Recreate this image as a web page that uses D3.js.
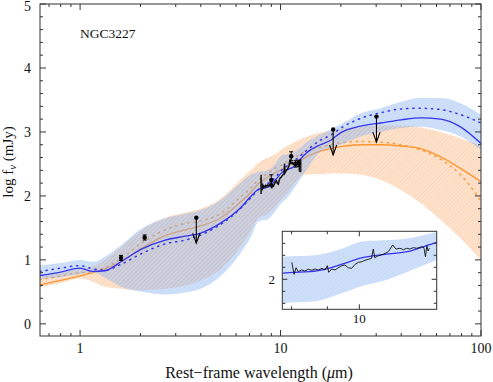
<!DOCTYPE html>
<html><head><meta charset="utf-8">
<script src="https://cdn.jsdelivr.net/npm/d3@7"></script>
<style>body{margin:0;background:#fff;} svg{display:block;font-family:"Liberation Serif","DejaVu Serif",serif;}</style>
</head><body>
<svg id="c" width="493" height="382"></svg>
<script>
// ---------- DATA ----------
const wave   = [0.63,0.8,1.0,1.16,1.33,1.6,2.0,2.66,3.35,4.0,5.0,6.3,7.1,7.75,8.7,9.5,10.1,10.8,11.7,12.9,14.1,15.8,17.8,20,25,31.6,40,50,63,79,100];
const blueFit= [0.755,0.81,0.87,0.82,0.83,0.97,1.16,1.31,1.37,1.42,1.57,1.81,1.99,2.10,2.14,2.26,2.36,2.41,2.46,2.617,2.72,2.80,2.87,2.99,3.09,3.14,3.19,3.22,3.20,3.08,2.82];
const blueDot= [0.82,0.87,0.91,0.86,0.84,0.93,1.09,1.25,1.31,1.39,1.55,1.80,1.97,2.10,2.20,2.30,2.40,2.47,2.55,2.66,2.76,2.87,2.95,3.06,3.21,3.30,3.36,3.37,3.35,3.27,3.14];
const blueUp = [0.91,0.95,1.0,0.97,1.05,1.23,1.48,1.65,1.72,1.78,1.93,2.2,2.33,2.375,2.405,2.52,2.63,2.65,2.68,2.79,2.88,2.96,3.04,3.12,3.29,3.37,3.47,3.53,3.53,3.45,3.27];
const blueLo = [0.70,0.73,0.78,0.80,0.72,0.58,0.505,0.46,0.49,0.55,0.74,1.1,1.35,1.6,1.64,1.78,1.89,1.97,2.12,2.32,2.5,2.69,2.75,2.8,2.93,3.0,3.06,3.08,3.03,2.93,2.72];
const orFit  = [0.61,0.68,0.75,0.80,0.86,0.97,1.17,1.38,1.47,1.53,1.65,1.9,2.05,2.19,2.30,2.37,2.41,2.46,2.52,2.58,2.64,2.70,2.74,2.77,2.80,2.80,2.78,2.74,2.61,2.43,2.22];
const orDot  = [0.69,0.75,0.80,0.82,0.88,1.02,1.25,1.47,1.57,1.61,1.72,1.98,2.12,2.25,2.36,2.44,2.48,2.54,2.60,2.67,2.72,2.76,2.80,2.83,2.85,2.84,2.80,2.72,2.57,2.33,1.92];
const orUp   = [0.74,0.80,0.86,0.90,1.0,1.2,1.45,1.66,1.74,1.80,1.95,2.25,2.40,2.52,2.60,2.66,2.72,2.78,2.84,2.90,2.95,2.99,3.02,3.05,3.08,3.1,3.1,3.07,3.0,2.9,2.78];
const orLo   = [0.57,0.64,0.71,0.66,0.58,0.55,0.53,0.55,0.6,0.68,0.85,1.2,1.45,1.65,1.72,1.85,1.95,2.05,2.18,2.33,2.34,2.34,2.35,2.35,2.33,2.25,2.09,1.89,1.625,1.34,1.0];

// photometry: wavelength, log f, error
const photWave = [1.6, 2.1, 8.99, 11.3, 11.9, 12.3];
const photVal  = [1.03, 1.35, 2.25, 2.62, 2.50, 2.51];
const photErr  = [0.04, 0.04, 0.08, 0.07, 0.05, 0.05];
// upper limits
const ulWave = [3.8, 18.3, 30.1];
const ulVal  = [1.66, 3.04, 3.24];
// N-band spectrum
const specWave = [8.007,8.066,8.12,8.18,8.27,8.36,8.45,8.55,8.64,8.74,8.84,8.93,9.00,9.04,9.13,9.23,9.33,9.44,9.54,9.64,9.75,9.86,9.97,10.08,10.19,10.30,10.41,10.47,10.52,10.65,10.82,11.00,11.16,11.28,11.43,11.56,11.69,11.81,11.94,12.08,12.28,12.37,12.43,12.49,12.54,12.59];
const specVal  = [2.283,2.083,2.193,2.127,2.155,2.138,2.167,2.15,2.172,2.155,2.183,2.155,2.227,2.117,2.172,2.155,2.193,2.227,2.238,2.193,2.183,2.25,2.283,2.293,2.317,2.333,2.35,2.505,2.36,2.393,2.417,2.46,2.572,2.505,2.517,2.493,2.517,2.505,2.527,2.517,2.543,2.527,2.377,2.56,2.472,2.517];
const specBarWave = [8.0, 12.6];
const specBarVal  = [2.18, 2.47];
const specBarErr  = [0.15, 0.10];

const xTickLabels = ["1","10","100"];
const yTickLabels = ["0","1","2","3","4","5"];
const title = "NGC3227";

// ---------- SETUP ----------
const svg = d3.select('#c');
const L=40,R=481,T=4,B=336;
const x = d3.scaleLog().domain([0.631,100]).range([L,R]);
const y = d3.scaleLinear().domain([-0.19,5]).range([B,T]);
const IL=282.3, IR=436.7, IT=231.3, IB=309.3;
const xi = d3.scaleLog().domain([7.76,12.9]).range([IL,IR]);
const yi = d3.scaleLinear().domain([1.5,2.8]).range([IB,IT]);

const defs = svg.append('defs');
function hatch(id,bg,fg){
  const p=defs.append('pattern').attr('id',id).attr('patternUnits','userSpaceOnUse')
    .attr('width',3).attr('height',3).attr('patternTransform','rotate(-45)');
  p.append('rect').attr('width',3).attr('height',3).attr('fill',bg);
  p.append('rect').attr('width',3).attr('height',0.7).attr('fill',fg);
}
hatch('hb','#93bbf1','#7aa6ea');
hatch('ho','#fee3ce','#fcd0ae');
defs.append('clipPath').attr('id','cm').append('rect').attr('x',L).attr('y',T).attr('width',R-L).attr('height',B-T);
defs.append('clipPath').attr('id','ci').append('rect').attr('x',IL).attr('y',IT).attr('width',IR-IL).attr('height',IB-IT);

const band = (lo,hi) => wave.map((w,i)=>({w,lo:lo[i],hi:hi[i]}));
const ser = a => wave.map((w,i)=>[w,a[i]]);

function drawModels(g, xs, ys, inset){
  const area=d3.area().x(d=>xs(d.w)).y0(d=>ys(d.lo)).y1(d=>ys(d.hi)).curve(d3.curveMonotoneX);
  const line=d3.line().x(d=>xs(d[0])).y(d=>ys(d[1])).curve(d3.curveMonotoneX);
  if(!inset){
    g.append('path').attr('d',area(band(orLo,orUp))).attr('fill','url(#ho)');
    g.append('path').attr('d',line(ser(orFit))).attr('fill','none').attr('stroke','#ff9530').attr('stroke-width',1.3);
    g.append('path').attr('d',line(ser(orDot))).attr('fill','none').attr('stroke','#ff9530').attr('stroke-width',1.5)
      .attr('stroke-dasharray','1.2,5').attr('stroke-linecap','round');
  }
  g.append('path').attr('d',area(band(blueLo,blueUp))).attr('fill','url(#hb)').attr('opacity',0.45);
  if(!inset){
    g.append('path').attr('d',line(ser(blueDot))).attr('fill','none').attr('stroke','#3535ee').attr('stroke-width',1.5)
      .attr('stroke-dasharray','1.2,5').attr('stroke-linecap','round');
  }
  g.append('path').attr('d',line(ser(blueFit))).attr('fill','none').attr('stroke','#3535ee').attr('stroke-width',1.3);
  const spec=d3.line().x(d=>xs(d[0])).y(d=>ys(d[1]));
  g.append('path').attr('d',spec(specWave.map((w,i)=>[w,specVal[i]]))).attr('fill','none')
    .attr('stroke','#111').attr('stroke-width',inset?0.9:1.5);
}

// ---------- MAIN ----------
const gm = svg.append('g').attr('clip-path','url(#cm)');
drawModels(gm, x, y, false);

specBarWave.forEach((w,i)=>{
  gm.append('line').attr('x1',x(w)).attr('x2',x(w)).attr('y1',y(specBarVal[i]-specBarErr[i])).attr('y2',y(specBarVal[i]+specBarErr[i]))
    .attr('stroke','#222').attr('stroke-width',1.6);
});
photWave.forEach((w,i)=>{
  const cx=x(w), v=photVal[i], e=photErr[i];
  gm.append('line').attr('x1',cx).attr('x2',cx).attr('y1',y(v-e)).attr('y2',y(v+e)).attr('stroke','#000').attr('stroke-width',1);
  [v-e,v+e].forEach(t=>gm.append('line').attr('x1',cx-2).attr('x2',cx+2).attr('y1',y(t)).attr('y2',y(t)).attr('stroke','#000').attr('stroke-width',1));
  gm.append('circle').attr('cx',cx).attr('cy',y(v)).attr('r',2.2).attr('fill','#000');
});
ulWave.forEach((w,i)=>{
  const cx=x(w), y0=y(ulVal[i]), y1=y(ulVal[i]-0.4);
  gm.append('line').attr('x1',cx).attr('x2',cx).attr('y1',y0).attr('y2',y1).attr('stroke','#000').attr('stroke-width',1.1);
  gm.append('path').attr('d',`M${cx-3.6},${y1-10}L${cx},${y1}L${cx+3.6},${y1-10}`).attr('fill','none').attr('stroke','#000').attr('stroke-width',1.1);
  gm.append('circle').attr('cx',cx).attr('cy',y0).attr('r',2.2).attr('fill','#000');
});

const ax = svg.append('g').attr('stroke','#333').attr('stroke-width',1);
ax.append('rect').attr('x',L).attr('y',T).attr('width',R-L).attr('height',B-T).attr('fill','none');
x.ticks().forEach(t=>{
  const major = Math.abs(Math.log10(t)-Math.round(Math.log10(t)))<1e-6;
  const len = major?6:3, px=x(t);
  ax.append('line').attr('x1',px).attr('x2',px).attr('y1',B).attr('y2',B-len);
  ax.append('line').attr('x1',px).attr('x2',px).attr('y1',T).attr('y2',T+len);
});
d3.range(0,26).map(k=>k*0.2).forEach(t=>{
  const major = Math.abs(t-Math.round(t))<1e-6;
  const len = major?6:3, py=y(t);
  ax.append('line').attr('x1',L).attr('x2',L+len).attr('y1',py).attr('y2',py);
  ax.append('line').attr('x1',R).attr('x2',R-len).attr('y1',py).attr('y2',py);
});
const tx = svg.append('g').attr('fill','#111').attr('font-size',14);
[1,10,100].forEach((t,i)=>tx.append('text').attr('x',x(t)).attr('y',353).attr('text-anchor','middle').text(xTickLabels[i]));
[0,1,2,3,4,5].forEach((t,i)=>tx.append('text').attr('x',31).attr('y',Math.max(y(t)+5,11)).attr('text-anchor','end').text(yTickLabels[i]));

tx.append('text').attr('x',80).attr('y',38).attr('font-size',13.5).text(title);

const xl = tx.append('text').attr('x',259).attr('y',378).attr('text-anchor','middle').attr('font-size',16);
xl.append('tspan').text('Rest\u2212frame wavelength (');
xl.append('tspan').attr('font-style','italic').text('\u03bc');
xl.append('tspan').text('m)');

const yl = tx.append('text').attr('transform','translate(13,162) rotate(-90)').attr('text-anchor','middle').attr('font-size',15);
yl.append('tspan').text('log f');
yl.append('tspan').attr('font-size',11).attr('dy',3).attr('font-style','italic').text('\u03bd');
yl.append('tspan').attr('dy',-3).text(' (mJy)');

// ---------- INSET ----------
svg.append('rect').attr('x',IL).attr('y',IT).attr('width',IR-IL).attr('height',IB-IT).attr('fill','#fff');
const gi = svg.append('g').attr('clip-path','url(#ci)');
drawModels(gi, xi, yi, true);
const ai = svg.append('g').attr('stroke','#333').attr('stroke-width',1);
ai.append('rect').attr('x',IL).attr('y',IT).attr('width',IR-IL).attr('height',IB-IT).attr('fill','none');
[8,9,10].forEach(t=>{
  const len = t===10?5:3, px=xi(t);
  ai.append('line').attr('x1',px).attr('x2',px).attr('y1',IB).attr('y2',IB-len);
  ai.append('line').attr('x1',px).attr('x2',px).attr('y1',IT).attr('y2',IT+len);
});
[1.6,1.8,2.0,2.2,2.4,2.6].forEach(t=>{
  const len = Math.abs(t-2)<1e-6?5:3, py=yi(t);
  ai.append('line').attr('x1',IL).attr('x2',IL+len).attr('y1',py).attr('y2',py);
  ai.append('line').attr('x1',IR).attr('x2',IR-len).attr('y1',py).attr('y2',py);
});
tx.append('text').attr('x',xi(10)).attr('y',323).attr('text-anchor','middle').attr('font-size',13).text('10');
tx.append('text').attr('x',275).attr('y',yi(2)+4.5).attr('text-anchor','end').attr('font-size',13).text('2');
</script>
</body></html>
